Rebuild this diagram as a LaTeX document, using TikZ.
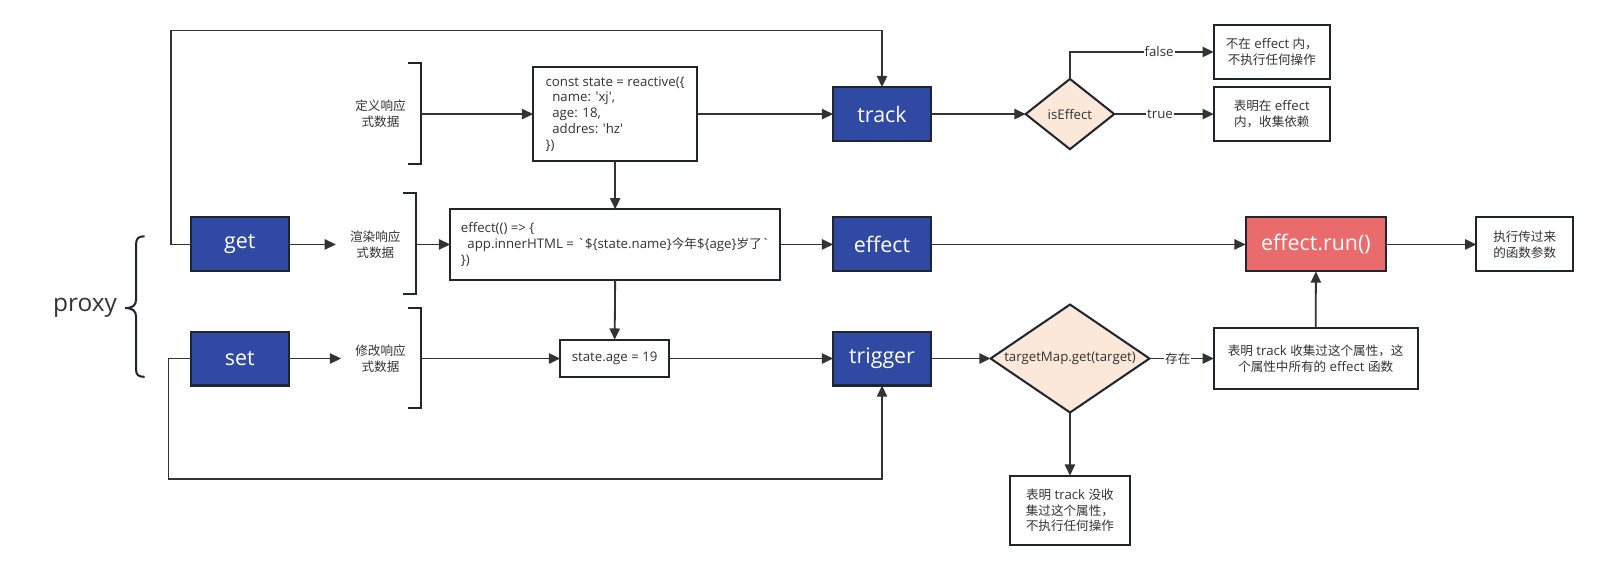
\documentclass[tikz,border=0pt]{standalone}
\usepackage{fontspec}
\usetikzlibrary{arrows.meta,shapes.geometric}
\newfontfamily\lat{Open Sans}
\newfontfamily\zhfont{Noto Sans CJK SC}[Scale=0.95]
\newcommand\zh[1]{{\zhfont #1}}
\definecolor{bluef}{HTML}{304AA3}
\definecolor{redf}{HTML}{EA6B6B}
\definecolor{peach}{HTML}{FCE8D8}
\definecolor{bord}{HTML}{1F2630}
\definecolor{linec}{HTML}{333333}
\definecolor{txtc}{HTML}{333333}
\begin{document}
\begin{tikzpicture}[x=1pt,y=-1pt,
  base/.style={font=\lat\fontsize{13}{15.6}\selectfont, text=txtc},
  box/.style={base, draw=bord, line width=2, fill=white, align=center, inner sep=0, outer sep=0},
  bbox/.style={box, fill=bluef, text=white, font=\lat\fontsize{21}{24}\selectfont, minimum width=96, minimum height=53},
  dia/.style={shape=diamond, draw=bord, line width=2, fill=peach, inner sep=0, outer sep=0},
  brk/.style={draw=bord, line width=2},
  arr/.style={draw=linec, line width=1.8, -{Triangle[length=11pt,width=10pt]}},
  lab/.style={base, fill=white, inner sep=1},
  lbl/.style={base, align=center, minimum width=77, inner sep=0}
]
\fill[white] (0,0) rectangle (1568,560);
\useasboundingbox (0,0) rectangle (1568,560);

% proxy brace
\node[base, font=\lat\fontsize{24}{28}\selectfont] (proxy) at (83.5,302) {proxy};
\draw[brk] (142,232) .. controls (136,232) and (133.6,234) .. (133.6,240) -- (133.6,294)
  .. controls (133.6,300) and (130,302.5) .. (123,302.5)
  .. controls (130,302.5) and (133.6,305) .. (133.6,311) -- (133.6,363)
  .. controls (133.6,368) and (136,370) .. (142,370);

% blue boxes
\node[bbox] (get) at (235.5,240) {get};
\node[bbox] (set) at (235.5,352) {set};
\node[bbox] (track) at (866,112) {track};
\node[bbox] (eff) at (866,240) {effect};
\node[bbox] (trig) at (866,352) {trigger};

% bracket labels
\node[lbl] (l1) at (373.6,112) {\zh{定义响应}\\\zh{式数据}};
\node[lbl] (l2) at (368.5,240) {\zh{渲染响应}\\\zh{式数据}};
\node[lbl] (l3) at (373.6,352) {\zh{修改响应}\\\zh{式数据}};
\draw[brk] (400.3,62.2) -- (413.2,62.2) -- (413.2,160.7) -- (400.3,160.7);
\coordinate (b1) at (413.2,112);
\draw[brk] (395.6,189.8) -- (408.5,189.8) -- (408.5,288.3) -- (395.6,288.3);
\coordinate (b2) at (408.5,240);
\draw[brk] (400.3,302) -- (413.2,302) -- (413.2,401) -- (400.3,401);
\coordinate (b3) at (413.2,352);

% code boxes
\node[box, minimum width=161, minimum height=92.5, align=left] (react) at (604,112)
  {const state = reactive(\{\\\hspace*{.5em}name: 'xj',\\\hspace*{.5em}age: 18,\\\hspace*{.5em}addres: 'hz'\\\})};
\node[box, minimum width=324, minimum height=69, align=left] (code) at (604,240)
  {effect(() => \{\\\hspace*{.5em}app.innerHTML = `\$\{state.name\}\zh{今年}\$\{age\}\zh{岁了}`\\\})};
\node[box, minimum width=107, minimum height=37] (sage) at (603.5,352) {state.age = 19};

% diamonds
\node[dia, minimum width=87, minimum height=69] (ie) at (1050.5,112) {};
\node[base] (ietxt) at (ie.center) {isEffect};
\node[dia, minimum width=156, minimum height=106] (tm) at (1050.6,352) {};
\node[base] (tmtxt) at (tm.center) {targetMap.get(target)};

% result boxes
\node[box, minimum width=114, minimum height=53] (fb) at (1248.7,51) {\zh{不在} effect \zh{内，}\\\zh{不执行任何操作}};
\node[box, minimum width=114, minimum height=53] (tb) at (1248.7,112) {\zh{表明在} effect\\\zh{内，收集依赖}};
\node[box, fill=redf, text=white, font=\lat\fontsize{21}{24}\selectfont, minimum width=138, minimum height=53] (run) at (1292,240) {effect.run()};
\node[box, minimum width=95, minimum height=53] (exec) at (1497,240) {\zh{执行传过来}\\\zh{的函数参数}};
\node[box, minimum width=200, minimum height=60.5] (col) at (1291.8,352) {\zh{表明} track \zh{收集过这个属性，这}\\\zh{个属性中所有的} effect \zh{函数}};
\node[box, minimum width=118.5, minimum height=68] (nocol) at (1050.5,501) {\zh{表明} track \zh{没收}\\\zh{集过这个属性，}\\\zh{不执行任何操作}};

% loop corners
\coordinate (lt) at (168,30);
\coordinate (lb) at (165.5,470);

% connectors
\draw[arr] (get.west) -| (lt) -| (track.north);
\draw[arr] (set.west) -| (lb) -| (trig.south);
\draw[arr] (get.east) -- (l2.west);
\draw[arr] (set.east) -- (l3.west);
\draw[arr] (b1) -- (react.west);
\draw[arr] (b2) -- (code.west);
\draw[arr] (b3) -- (sage.west);
\draw[arr] (react.east) -- (track.west);
\draw[arr] (react.south) -- (code.north);
\draw[arr] (code.south) -- (sage.north);
\draw[arr] (code.east) -- (eff.west);
\draw[arr] (eff.east) -- (run.west);
\draw[arr] (run.east) -- (exec.west);
\draw[arr] (track.east) -- (ie.west);
\draw[arr] (ie.north) |- node[lab, pos=0.81] {false} (fb.west);
\draw[arr] (ie.east) -- node[lab, pos=0.46] {true} (tb.west);
\draw[arr] (sage.east) -- (trig.west);
\draw[arr] (trig.east) -- (tm.west);
\draw[arr] (tm.east) -- node[lab, pos=0.44] {\zh{存在}} (col.west);
\draw[arr] (tm.south) -- (nocol.north);
\draw[arr] (col.north) -- (run.south);
\end{tikzpicture}
\end{document}
